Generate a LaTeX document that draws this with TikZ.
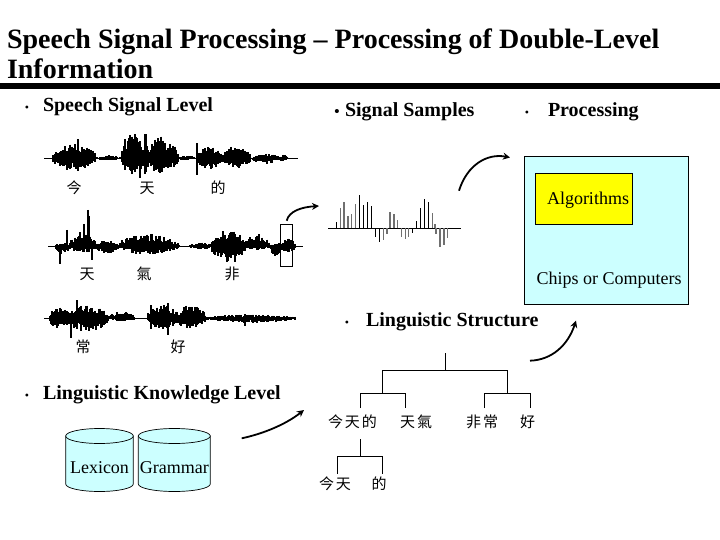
\documentclass[tikz,border=0pt]{standalone}
\usepackage{fontspec}
\setmainfont{Liberation Serif}
\newfontfamily\cjk{Noto Sans CJK TC}
\usetikzlibrary{arrows.meta}
\definecolor{lcyan}{HTML}{CCFFFF}
\definecolor{lyellow}{HTML}{FFFF00}
\definecolor{sampgray}{HTML}{707070}
\newcommand{\wv}[5]{% y x0 x1 up down
  \foreach \xx in {#2,...,#3}{%
    \pgfmathsetmacro{\ee}{0.4+0.6*sin(180*(\xx-#2)/(#3-#2+0.01))}%
    \pgfmathsetmacro{\aa}{#4*\ee*(0.4+0.75*rnd)}%
    \pgfmathsetmacro{\bb}{#5*\ee*(0.4+0.75*rnd)}%
    \draw[wavel] (\xx,#1-\aa) -- (\xx,#1+\bb);
  }}
\newcommand{\cyl}[4]{% name x0 x1 text
  \path[draw=black,fill=lcyan,line width=.7pt] (#2,436) -- (#3,436)
     -- (#3,484) arc[start angle=0,end angle=180,x radius={(#3-#2)/2},y radius=7.5] -- cycle;
  \path[draw=black,fill=lcyan,line width=.7pt] ({(#2+#3)/2},436) ellipse[x radius={(#3-#2)/2},y radius=7.5];
  \node[plain,font=\fontsize{18}{20}\selectfont] (#1) at ({(#2+#3)/2},467.5) {#4};
}
\tikzset{
  x=1pt,y=-1pt,
  plain/.style={inner sep=0pt,outer sep=0pt},
  titletext/.style={plain,anchor=base west,font=\bfseries\fontsize{28}{30}\selectfont},
  headtext/.style={plain,anchor=base west,font=\bfseries\fontsize{20}{22}\selectfont},
  dotmark/.style={plain,anchor=base,font=\fontsize{12}{14}\selectfont},
  bodytext/.style={plain,font=\fontsize{18}{20}\selectfont},
  hanzi/.style={plain,font=\cjk\fontsize{15}{17}\selectfont},
  wavel/.style={line width=1.1pt,black},
  axisl/.style={line width=.8pt,black},
  treel/.style={line width=.9pt,black},
  curvearrow/.style={line width=1.8pt,black,-{Stealth[length=7pt,width=7pt]}},
}
\begin{document}
\begin{tikzpicture}
\useasboundingbox (0,0) rectangle (720,540);
\fill[white] (0,0) rectangle (720,540);
\pgfmathsetseed{4242}
% title
\node[titletext] (t1) at (7,49) {Speech Signal Processing – Processing of Double-Level};
\node[titletext] (t2) at (7,79) {Information};
\fill[black] (0,83) rectangle (720,89);
% headings
\node[dotmark] (b1) at (27,111.7) {•};
\node[headtext] (h1) at (43,111.7) {Speech Signal Level};
\node[plain,anchor=base,font=\bfseries\fontsize{15}{17}\selectfont] (b2) at (337,116.7) {•};
\node[headtext] (h2) at (345,116.7) {Signal Samples};
\node[dotmark] (b3) at (527,116.7) {•};
\node[headtext] (h3) at (548,116.7) {Processing};
\node[dotmark] (b4) at (347,326.5) {•};
\node[headtext] (h4) at (366,326.5) {Linguistic Structure};
\node[dotmark] (b5) at (27,399) {•};
\node[headtext] (h5) at (43,399) {Linguistic Knowledge Level};
% wave 1
\draw[axisl] (44,158.3) -- (298,158.3);
\wv{158.3}{53}{95}{13}{11}
\wv{158.3}{96}{121}{2.5}{2}
\wv{158.3}{122}{144}{20}{15}
\wv{158.3}{143}{178}{19}{13}
\wv{158.3}{179}{195}{2.5}{2}
\wv{158.3}{197}{222}{10}{10}
\wv{158.3}{222}{250}{11}{9}
\wv{158.3}{251}{270}{3}{4}
\wv{158.3}{258}{278}{4}{5}
\wv{158.3}{278}{288}{3}{3}
\draw[wavel] (78,158.3-19) -- (78,158.3+6);
\draw[wavel] (125,158.3-19) -- (125,158.3+12);
\draw[wavel] (130,158.3-23) -- (130,158.3+12);
\draw[wavel] (135,158.3-24) -- (135,158.3+14);
\draw[wavel] (140,158.3-17) -- (140,158.3+20);
\draw[wavel] (145,158.3-24) -- (145,158.3+16);
\draw[wavel] (146,158.3-24) -- (146,158.3+14);
\draw[wavel] (197,158.3-15) -- (197,158.3+17);
% labels wave 1
\node[hanzi] (w1a) at (74,188) {今};
\node[hanzi] (w1b) at (147,188) {天};
\node[hanzi] (w1c) at (218,188) {的};
% wave 2
\draw[axisl] (48,246) -- (303,246);
\wv{246}{56}{69}{3}{9}
\wv{246}{70}{95}{11}{6}
\wv{246}{96}{118}{5}{7}
\wv{246}{120}{175}{11}{8}
\wv{246}{176}{179}{3}{3}
\wv{246}{190}{214}{3}{3}
\wv{246}{212}{245}{14}{14}
\wv{246}{246}{269}{11}{4}
\wv{246}{270}{284}{3}{10}
\wv{246}{283}{295}{8}{6}
\draw[wavel] (60,246) -- (60,246+18);
\draw[wavel] (67,246-16) -- (67,246+3);
\draw[wavel] (80,246-14) -- (80,246+4);
\draw[wavel] (84,246-22) -- (84,246+6);
\draw[wavel] (88,246-36) -- (88,246+6);
\draw[wavel] (89,246-30) -- (89,246+6);
\draw[wavel] (92,246-5) -- (92,246+14);
\draw[wavel] (235,246) -- (235,246+16);
% box on wave 2
\node[plain,draw=black,line width=.8pt,minimum width=12.4pt,minimum height=42pt] (clip) at (286.5,245) {};
% labels wave 2
\node[hanzi] (w2a) at (87,274) {天};
\node[hanzi] (w2b) at (144,274) {氣};
\node[hanzi] (w2c) at (232,274) {非};
% wave 3
\draw[axisl] (44,318.3) -- (296,318.3);
\wv{318.3}{50}{70}{11}{11}
\wv{318.3}{66}{108}{12}{12}
\wv{318.3}{109}{134}{6}{3}
\wv{318.3}{148}{178}{12}{10}
\wv{318.3}{176}{205}{12}{9}
\wv{318.3}{206}{295}{3.5}{4}
\draw[wavel] (77,318.3-18) -- (77,318.3+6);
\draw[wavel] (71,318.3-5) -- (71,318.3+20);
\draw[wavel] (168,318.3-15) -- (168,318.3+17);
\draw[wavel] (151,318.3-13) -- (151,318.3+11);
\draw[wavel] (245,318.3-4) -- (245,318.3+8);
\node[hanzi] (w3a) at (83,347) {常};
\node[hanzi] (w3b) at (178,347) {好};
% samples
\draw[line width=1pt,black] (328,228.3) -- (461,228.3);
\foreach \px/\hh/\cc in {199/18/black,211/60/sampgray,222/78/sampgray,234/36/sampgray,245/42/sampgray,257/72/sampgray,269/100/black,280/70/black,292/78/black,304/66/black,316/-25/black,328/-40/black,340/-35/sampgray,351/-18/sampgray,360/48/sampgray,372/42/sampgray,383/24/sampgray,395/-25/sampgray,407/-32/sampgray,416/-25/sampgray,428/-14/black,439/22/black,451/60/black,463/88/black,475/78/black,487/45/sampgray,495/12/sampgray,498/-16/sampgray,510/-55/sampgray,522/-50/sampgray,533/-30/sampgray}{
  \pgfmathsetmacro{\sx}{270+\px/3}
  \pgfmathsetmacro{\sh}{\hh/3}
  \draw[\cc,line width=1.2pt] (\sx,228.3) -- (\sx,228.3-\sh);
}
% processing box
\node[plain,draw=black,fill=lcyan,line width=.7pt,minimum width=164pt,minimum height=148pt] (chip) at (606.5,230) {};
\node[plain,draw=black,fill=lyellow,line width=.7pt,minimum width=97pt,minimum height=51.5pt] (algo) at (584.2,198.8) {};
\node[bodytext] (algot) at (588,200) {Algorithms};
\node[bodytext] (chipt) at (609,280) {Chips or Computers};
% cylinders
\cyl{lex}{65.7}{133.3}{Lexicon}
\cyl{gra}{138.3}{210.3}{Grammar}
% arrows
\coordinate (a1s) at (286.7,220.7); \coordinate (a1e) at (319,206);
\coordinate (a2s) at (459,190.7); \coordinate (a2e) at (510,157.5);
\coordinate (a3s) at (241.7,438.3); \coordinate (a3e) at (304,410);
\coordinate (a4s) at (530,360.7); \coordinate (a4e) at (576,320.7);
\draw[curvearrow] (a1s) .. controls (289,211) and (302,207) .. (a1e);
\draw[curvearrow] (a2s) .. controls (467,165) and (487,153) .. (a2e);
\draw[curvearrow] (a3s) .. controls (262,434) and (285,425) .. (a3e);
\draw[curvearrow] (a4s) .. controls (552,360) and (568,345) .. (a4e);
% tree
\node[hanzi] (jtd) at (352.5,421.7) {今\hspace{2pt}天\hspace{2pt}的};
\node[hanzi] (tq) at (416,421.7) {天\hspace{2pt}氣};
\node[hanzi] (fc) at (482,421.7) {非\hspace{2pt}常};
\node[hanzi] (hao) at (527.5,421.7) {好};
\node[hanzi] (jt) at (335,484) {今\hspace{2pt}天};
\node[hanzi] (de) at (379,484) {的};
\coordinate (root) at (445.3,353);
\coordinate (rj) at (445.3,370.5);
\coordinate (ltop) at (382.3,370.5);
\coordinate (rtop) at (507.3,370.5);
\coordinate (lj) at (382.3,393.3);
\coordinate (rjn) at (507.3,393.3);
\coordinate (t2top) at (360.3,439);
\coordinate (t2j) at (360.3,456.3);
\draw[treel] (root) -- (rj);
\draw[treel] (lj) -- (ltop) -- (rtop) -- (rjn);
\draw[treel] (360.3,408) |- (lj) -| (405.7,408);
\draw[treel] (484.3,408) |- (rjn) -| (530.3,408);
\draw[treel] (t2top) -- (t2j);
\draw[treel] (337.3,474) |- (t2j) -| (382.3,474);
\end{tikzpicture}
\end{document}
